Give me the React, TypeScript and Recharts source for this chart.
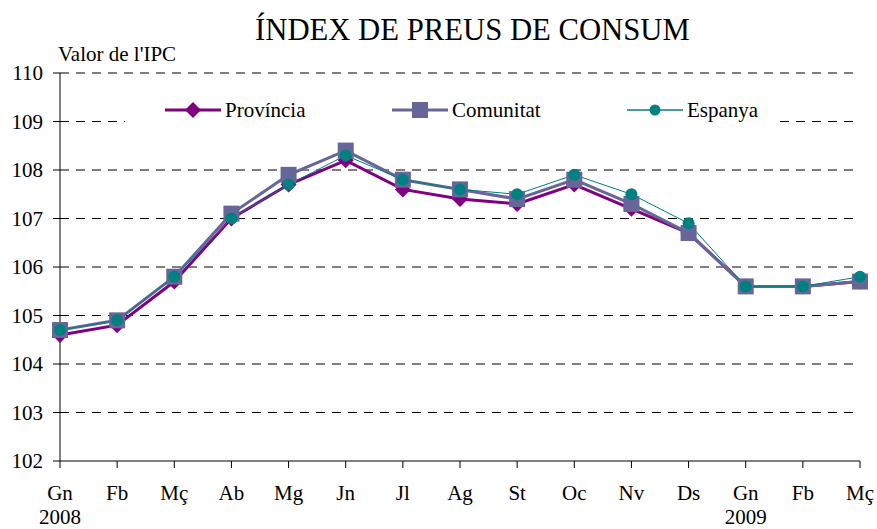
import React from "react";
import { LineChart, Line, XAxis, YAxis, CartesianGrid } from "recharts";

const months = ["Gn", "Fb", "Mç", "Ab", "Mg", "Jn", "Jl", "Ag", "St", "Oc", "Nv", "Ds", "Gn", "Fb", "Mç"];
const years = ["2008", "", "", "", "", "", "", "", "", "", "", "", "2009", "", ""];
const provincia = [104.6, 104.8, 105.7, 107.0, 107.7, 108.2, 107.6, 107.4, 107.3, 107.7, 107.2, 106.7, 105.6, 105.6, 105.7];
const comunitat = [104.7, 104.9, 105.8, 107.1, 107.9, 108.4, 107.8, 107.6, 107.4, 107.8, 107.3, 106.7, 105.6, 105.6, 105.7];
const espanya = [104.7, 104.9, 105.8, 107.0, 107.7, 108.3, 107.8, 107.6, 107.5, 107.9, 107.5, 106.9, 105.6, 105.6, 105.8];
const yTicks = [102, 103, 104, 105, 106, 107, 108, 109, 110];

const data = months.map((m, i) => ({
  key: i,
  month: m,
  year: years[i],
  provincia: provincia[i],
  comunitat: comunitat[i],
  espanya: espanya[i],
}));

const FONT = "'Liberation Serif', 'Times New Roman', serif";
const C_P = "#800080";
const C_C = "#666699";
const C_E = "#008080";

const Diamond = (props: any) => {
  const { cx, cy } = props;
  if (cx == null || cy == null) return null;
  const s = 8;
  return <path d={`M${cx},${cy - s}L${cx + s},${cy}L${cx},${cy + s}L${cx - s},${cy}Z`} fill={C_P} stroke="none" />;
};
const Square = (props: any) => {
  const { cx, cy } = props;
  if (cx == null || cy == null) return null;
  const s = 8;
  return <rect x={cx - s} y={cy - s} width={2 * s} height={2 * s} fill={C_C} stroke="none" />;
};
const Circle = (props: any) => {
  const { cx, cy } = props;
  if (cx == null || cy == null) return null;
  return <circle cx={cx} cy={cy} r={6} fill={C_E} stroke="none" />;
};

const XTick = (props: any) => {
  const { x, y, payload } = props;
  const i = payload.value as number;
  return (
    <g>
      <text x={x} y={y + 30} textAnchor="middle" fontFamily={FONT} fontSize={21} fill="#000">{months[i]}</text>
      {years[i] ? (
        <text x={x} y={y + 54} textAnchor="middle" fontFamily={FONT} fontSize={21} fill="#000">{years[i]}</text>
      ) : null}
    </g>
  );
};

const LegendItem = ({ left, label, color, width, marker }: any) => (
  <div style={{ position: "absolute", left, top: 0, height: 36, display: "flex", alignItems: "center" }}>
    <svg width={56} height={20} style={{ display: "block" }}>
      <line x1={0} y1={10} x2={56} y2={10} stroke={color} strokeWidth={width} />
      {marker}
    </svg>
    <span style={{ fontFamily: FONT, fontSize: 21, color: "#000", marginLeft: 4, lineHeight: "36px", whiteSpace: "nowrap" }}>{label}</span>
  </div>
);

export default function App() {
  return (
    <div style={{ position: "absolute", left: 0, top: 0, width: 877, height: 529, background: "#fff" }}>
      <div style={{ position: "absolute", left: 255, top: 12, fontFamily: FONT, fontSize: 30.7, color: "#000", whiteSpace: "nowrap", lineHeight: "36px" }}>
        ÍNDEX DE PREUS DE CONSUM
      </div>
      <div style={{ position: "absolute", left: 58, top: 42, fontFamily: FONT, fontSize: 21, color: "#000", whiteSpace: "nowrap", lineHeight: "24px" }}>
        Valor de l'IPC
      </div>
      <LineChart width={877} height={529} data={data} margin={{ top: 73, right: 17, left: 0, bottom: 0 }}>
        <CartesianGrid vertical={false} stroke="#000" strokeDasharray="9 7" horizontalValues={[103, 104, 105, 106, 107, 108, 109, 110]} />
        <XAxis
          dataKey="key"
          type="category"
          height={68}
          axisLine={{ stroke: "#000", strokeWidth: 1 }}
          tickLine={{ stroke: "#000" }}
          tickSize={7}
          tick={<XTick />}
          interval={0}
        />
        <YAxis
          domain={[102, 110]}
          ticks={yTicks}
          width={60}
          axisLine={{ stroke: "#000", strokeWidth: 1 }}
          tickLine={{ stroke: "#000" }}
          tickSize={7}
          tick={{ fontFamily: FONT, fontSize: 21, fill: "#000" }}
          tickMargin={10}
        />
        <Line dataKey="provincia" stroke={C_P} strokeWidth={3} dot={<Diamond />} isAnimationActive={false} />
        <Line dataKey="comunitat" stroke={C_C} strokeWidth={3} dot={<Square />} isAnimationActive={false} />
        <Line dataKey="espanya" stroke={C_E} strokeWidth={1} dot={<Circle />} isAnimationActive={false} />
      </LineChart>
      <div style={{ position: "absolute", left: 125, top: 92, width: 650, height: 36, background: "#fff" }}>
        <LegendItem left={40} label="Província" color={C_P} width={3} marker={<path d="M28,2L36,10L28,18L20,10Z" fill={C_P} />} />
        <LegendItem left={267} label="Comunitat" color={C_C} width={3} marker={<rect x={20} y={2} width={16} height={16} fill={C_C} />} />
        <LegendItem left={502} label="Espanya" color={C_E} width={1.5} marker={<circle cx={28} cy={10} r={5.5} fill={C_E} />} />
      </div>
    </div>
  );
}
